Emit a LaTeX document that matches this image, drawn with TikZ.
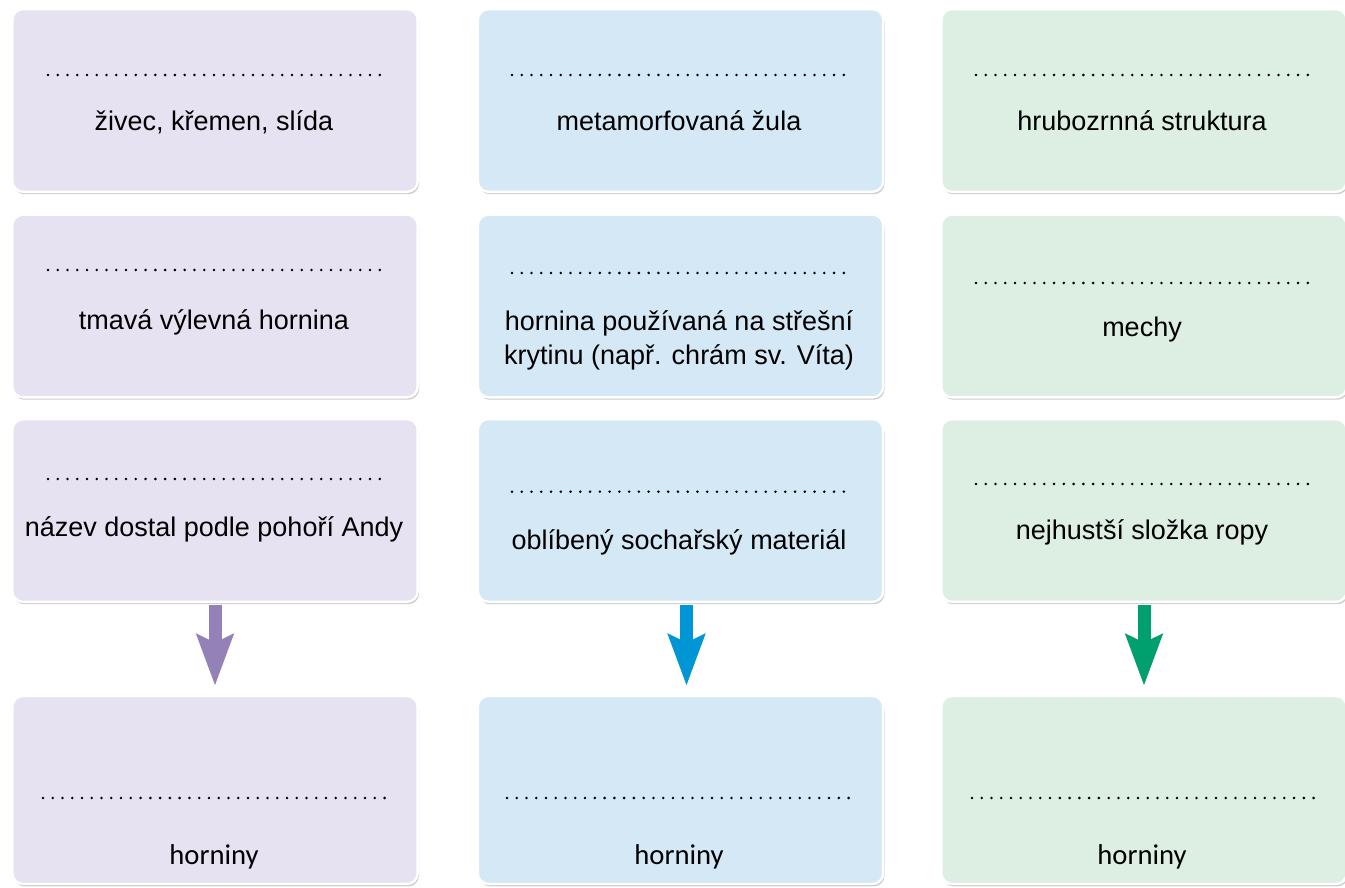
\documentclass[tikz,border=0pt]{standalone}
\usepackage{fontspec}
\setmainfont{Liberation Sans}
\newfontfamily\answerfont{Carlito}
\usepackage{xcolor}
\usetikzlibrary{shadows,arrows.meta}
\definecolor{igneous}{RGB}{230,226,241}
\definecolor{metamorphic}{RGB}{213,232,246}
\definecolor{sedimentary}{RGB}{221,238,227}
\definecolor{igneousdark}{RGB}{148,129,184}
\definecolor{metamorphicdark}{RGB}{0,150,214}
\definecolor{sedimentarydark}{RGB}{0,160,110}
\tikzstyle{box}=[rectangle, rounded corners=8pt, draw=white, line width=1.8pt, minimum width=304pt, minimum height=137pt, drop shadow={shadow xshift=1pt, shadow yshift=-1.8pt, fill=black, opacity=0.2}]
\tikzstyle{tall}=[minimum height=141pt]
\tikzstyle{clue}=[font=\fontsize{20.25}{25.5}\selectfont, align=center, inner sep=0pt, anchor=base]
\tikzstyle{answer}=[font=\answerfont\fontsize{21.5}{26}\selectfont, inner sep=0pt, anchor=base]
\tikzstyle{blank}=[line width=2.1pt, line cap=round, dash pattern=on 0pt off 7.32pt]
\tikzstyle{down}=[line width=9.75pt, -{Stealth[length=38.25pt,width=27pt,inset=6pt]}, shorten <=1.5pt, shorten >=6.75pt]

\begin{document}
\begin{tikzpicture}[x=0.75pt,y=0.75pt]
  \useasboundingbox (0,0) rectangle (1345,888);

  \draw (215,787.5) node[box,fill=igneous] (B11) {};
  \draw (215,582) node[box,fill=igneous] (B21) {};
  \draw (215,377.5) node[box,fill=igneous] (B31) {};
  \draw (215,98) node[box,tall,fill=igneous] (B41) {};

  \draw (680.5,787.5) node[box,fill=metamorphic] (B12) {};
  \draw (680.5,582) node[box,fill=metamorphic] (B22) {};
  \draw (680.5,377.5) node[box,fill=metamorphic] (B32) {};
  \draw (680.5,98) node[box,tall,fill=metamorphic] (B42) {};

  \draw (1144,787.5) node[box,fill=sedimentary] (B13) {};
  \draw (1144,582) node[box,fill=sedimentary] (B23) {};
  \draw (1144,377.5) node[box,fill=sedimentary] (B33) {};
  \draw (1144,98) node[box,tall,fill=sedimentary] (B43) {};

  %% blanks to fill in
  \draw[blank] (48,813) -- (380,813);
  \draw[blank] (48,618) -- (380,618);
  \draw[blank] (48,409) -- (380,409);
  \draw[blank] (43,90) -- (384.8,90);

  \draw[blank] (512,813) -- (844,813);
  \draw[blank] (512,615) -- (844,615);
  \draw[blank] (512,396.3) -- (844,396.3);
  \draw[blank] (507,90) -- (848.8,90);

  \draw[blank] (976,813) -- (1308,813);
  \draw[blank] (976,605) -- (1308,605);
  \draw[blank] (976,404) -- (1308,404);
  \draw[blank] (972,90) -- (1313.8,90);

  %% clues
  \draw (214,757) node[clue] (T11) {živec, křemen, slída};
  \draw (214,558) node[clue] (T21) {tmavá výlevná hornina};
  \draw (214,351.3) node[clue] (T31) {název dostal podle pohoří Andy};
  \draw (214,23) node[answer] (T41) {horniny};

  \draw (679,757) node[clue] (T12) {metamorfovaná žula};
  \draw (679,523) node[clue] (T22) {hornina používaná na střešní\\krytinu (např. chrám sv. Víta)};
  \draw (679,338) node[clue] (T32) {oblíbený sochařský materiál};
  \draw (679,23) node[answer] (T42) {horniny};

  \draw (1142,757) node[clue] (T13) {hrubozrnná struktura};
  \draw (1142,551) node[clue] (T23) {mechy};
  \draw (1142,348) node[clue] (T33) {nejhustší složka ropy};
  \draw (1142,23) node[answer] (T43) {horniny};

  %% arrows to the rock groups
  \draw[down, color=igneousdark] (B31) -- (B41);
  \draw[down, color=metamorphicdark] ([xshift=4.5pt]B32.south) -- ([xshift=4.5pt]B42.north);
  \draw[down, color=sedimentarydark] (B33) -- (B43);
\end{tikzpicture}
\end{document}
